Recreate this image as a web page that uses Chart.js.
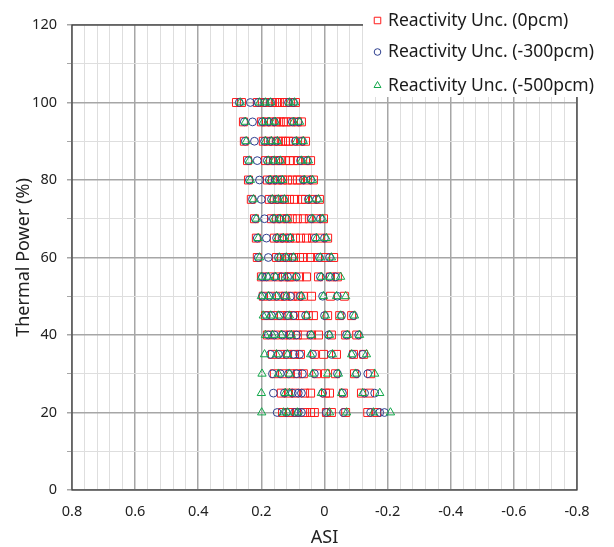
<!DOCTYPE html>
<html>
<head>
<meta charset="utf-8">
<script src="https://cdn.jsdelivr.net/npm/chart.js@4/dist/chart.umd.min.js"></script>
<style>
html,body{margin:0;padding:0;background:#fff;}
#wrap{width:614px;height:547px;position:relative;}
</style>
</head>
<body>
<div id="wrap"><canvas id="c" width="614" height="547"></canvas></div>
<script>
// ---- data ----
const seriesLabels = ['Reactivity Unc. (0pcm)', 'Reactivity Unc. (-300pcm)', 'Reactivity Unc. (-500pcm)'];
const powerLevels = [100, 95, 90, 85, 80, 75, 70, 65, 60, 55, 50, 45, 40, 35, 30, 25, 20];

// ASI values per power level (one inner list per power level)
const asiUnc0 = [
  [0.279, 0.263, 0.213, 0.197, 0.181, 0.165, 0.152, 0.143, 0.133, 0.124, 0.108, 0.092],
  [0.257, 0.200, 0.184, 0.168, 0.152, 0.140, 0.130, 0.121, 0.105, 0.086, 0.073],
  [0.254, 0.194, 0.178, 0.162, 0.146, 0.133, 0.124, 0.114, 0.098, 0.076, 0.060],
  [0.244, 0.187, 0.171, 0.155, 0.140, 0.124, 0.111, 0.098, 0.083, 0.060, 0.044],
  [0.241, 0.181, 0.165, 0.149, 0.133, 0.117, 0.102, 0.086, 0.076, 0.054, 0.035],
  [0.232, 0.175, 0.159, 0.143, 0.127, 0.111, 0.095, 0.073, 0.060, 0.038, 0.016],
  [0.222, 0.168, 0.152, 0.136, 0.118, 0.102, 0.086, 0.067, 0.048, 0.025, 0.003],
  [0.216, 0.159, 0.143, 0.127, 0.111, 0.092, 0.076, 0.057, 0.038, 0.013, -0.010],
  [0.213, 0.152, 0.136, 0.117, 0.098, 0.079, 0.067, 0.044, 0.022, -0.003, -0.029],
  [0.200, 0.175, 0.149, 0.130, 0.111, 0.105, 0.079, 0.057, 0.019, -0.019, -0.041],
  [0.194, 0.168, 0.143, 0.124, 0.102, 0.083, 0.067, 0.041, -0.019, -0.063],
  [0.187, 0.162, 0.137, 0.117, 0.095, 0.076, 0.051, 0.035, -0.010, -0.048, -0.086],
  [0.181, 0.156, 0.130, 0.108, 0.086, 0.067, 0.041, 0.019, -0.022, -0.067, -0.102],
  [0.165, 0.140, 0.117, 0.095, 0.076, 0.032, 0.003, -0.038, -0.092, -0.124],
  [0.159, 0.133, 0.108, 0.086, 0.067, 0.025, -0.003, -0.035, -0.095, -0.146],
  [0.137, 0.114, 0.092, 0.063, 0.044, -0.003, -0.016, -0.060, -0.117, -0.143],
  [0.133, 0.111, 0.089, 0.063, 0.044, 0.032, -0.006, -0.022, -0.067, -0.137, -0.165]
];
const asiUnc300 = [
  [0.270, 0.235, 0.210, 0.190, 0.171, 0.114, 0.098],
  [0.254, 0.228, 0.197, 0.178, 0.159, 0.102, 0.083],
  [0.251, 0.222, 0.190, 0.171, 0.152, 0.092, 0.070],
  [0.241, 0.213, 0.181, 0.162, 0.143, 0.076, 0.054],
  [0.238, 0.206, 0.175, 0.156, 0.137, 0.067, 0.044],
  [0.228, 0.200, 0.168, 0.149, 0.130, 0.051, 0.025],
  [0.219, 0.190, 0.162, 0.143, 0.121, 0.041, 0.013],
  [0.213, 0.184, 0.152, 0.133, 0.111, 0.029, 0.000],
  [0.210, 0.178, 0.146, 0.124, 0.102, 0.016, -0.016],
  [0.197, 0.184, 0.159, 0.136, 0.117, 0.089, 0.013, -0.016, -0.035],
  [0.197, 0.175, 0.152, 0.127, 0.108, 0.076, 0.006, -0.041],
  [0.184, 0.168, 0.143, 0.117, 0.098, 0.060, 0.000, -0.054, -0.092],
  [0.178, 0.159, 0.133, 0.111, 0.089, 0.044, -0.013, -0.070, -0.108],
  [0.171, 0.146, 0.121, 0.098, 0.079, 0.038, -0.022, -0.089, -0.121],
  [0.165, 0.140, 0.114, 0.089, 0.070, 0.032, -0.041, -0.102, -0.137],
  [0.162, 0.127, 0.102, 0.083, 0.073, 0.006, -0.057, -0.127, -0.159],
  [0.150, 0.121, 0.095, 0.083, 0.073, -0.006, -0.060, -0.146, -0.175, -0.190]
];
const asiUnc500 = [
  [0.267, 0.206, 0.187, 0.171, 0.111, 0.095],
  [0.251, 0.194, 0.175, 0.156, 0.098, 0.079],
  [0.248, 0.187, 0.168, 0.149, 0.089, 0.067],
  [0.238, 0.178, 0.159, 0.140, 0.073, 0.051],
  [0.235, 0.171, 0.152, 0.133, 0.063, 0.038],
  [0.225, 0.165, 0.146, 0.127, 0.048, 0.019],
  [0.216, 0.159, 0.140, 0.118, 0.038, 0.006],
  [0.210, 0.149, 0.130, 0.108, 0.025, -0.006],
  [0.206, 0.143, 0.121, 0.098, 0.013, -0.022],
  [0.200, 0.178, 0.155, 0.124, 0.092, 0.010, -0.019, -0.051],
  [0.200, 0.178, 0.152, 0.121, 0.073, 0.003, -0.038, -0.067],
  [0.194, 0.171, 0.146, 0.111, 0.057, -0.003, -0.051, -0.095],
  [0.187, 0.165, 0.137, 0.105, 0.041, -0.016, -0.073, -0.111],
  [0.190, 0.152, 0.117, 0.044, -0.025, -0.086, -0.133],
  [0.198, 0.146, 0.111, 0.038, -0.010, -0.044, -0.098, -0.159],
  [0.200, 0.124, 0.111, 0.010, -0.054, -0.121, -0.175],
  [0.199, 0.130, 0.117, 0.086, -0.016, -0.070, -0.155, -0.209]
];

// ---- build ----
function toPoints(rows) {
  const pts = [];
  rows.forEach((row, i) => row.forEach(v => pts.push({x: v, y: powerLevels[i]})));
  return pts;
}
const colors = ['#FF1A1A', '#2E3F8F', '#12A84A'];
const styles = ['rect', 'circle', 'triangle'];
const radii = [5.6, 3.9, 4.8];
const allSeries = [asiUnc0, asiUnc300, asiUnc500];

const datasets = allSeries.map((rows, k) => ({
  label: seriesLabels[k],
  data: toPoints(rows),
  showLine: false,
  pointStyle: styles[k],
  pointRadius: radii[k],
  pointHoverRadius: radii[k],
  pointBorderWidth: 1,
  pointBorderColor: colors[k],
  pointBackgroundColor: 'rgba(0,0,0,0)',
  borderColor: colors[k],
  backgroundColor: 'rgba(0,0,0,0)',
  order: 3 - k
}));

const isMult = (v, s) => Math.abs(v / s - Math.round(v / s)) < 1e-6;
const FONT = '"Noto Sans", "Open Sans", sans-serif';

const frame = {
  id: 'frame',
  afterDatasetsDraw(chart) {
    const {ctx, chartArea: a} = chart;
    ctx.save();
    ctx.strokeStyle = '#3a3a3a';
    ctx.lineWidth = 1.2;
    ctx.strokeRect(a.left, a.top, a.right - a.left, a.bottom - a.top);
    ctx.restore();
  },
  afterDraw(chart) {
    const {ctx} = chart;
    ctx.save();
    ctx.fillStyle = '#ffffff';
    ctx.fillRect(363, 0, 614 - 363, 97);
    const ys = [20.5, 52, 85.5];
    ctx.font = '17.5px ' + FONT;
    ctx.textBaseline = 'middle';
    ctx.textAlign = 'left';
    chart.data.datasets.forEach((ds, i) => {
      const r = [4.6, 3.3, 4][i];
      ctx.lineWidth = 1;
      ctx.strokeStyle = colors[i];
      ctx.fillStyle = 'rgba(0,0,0,0)';
      Chart.helpers.drawPoint(ctx, {pointStyle: styles[i], rotation: 0, borderWidth: 1, radius: r}, 377.5, ys[i]);
      ctx.fillStyle = '#1a1a1a';
      ctx.fillText(ds.label, 388, ys[i] + 0.5);
    });
    ctx.restore();
  }
};

new Chart(document.getElementById('c'), {
  type: 'scatter',
  data: {datasets},
  plugins: [frame],
  options: {
    responsive: false,
    animation: false,
    events: [],
    layout: {padding: {top: 25, right: 37, left: 0, bottom: 0}},
    plugins: {legend: {display: false}, tooltip: {enabled: false}},
    scales: {
      x: {
        type: 'linear',
        reverse: true,
        min: -0.8, max: 0.8,
        afterFit(s) { s.height = 57; },
        ticks: {
          stepSize: 0.04,
          autoSkip: false,
          maxRotation: 0,
          padding: 13,
          color: '#222',
          font: {family: FONT, size: 14.5},
          callback: v => isMult(v, 0.2) ? String(Math.round(v * 10) / 10) : ''
        },
        grid: {
          color: c => isMult(c.tick.value, 0.2) ? '#a6a6a6' : '#dedede',
          lineWidth: c => isMult(c.tick.value, 0.2) ? 1.5 : 1,
          tickLength: 4,
          drawTicks: false
        },
        border: {display: false},
        title: {display: true, text: 'ASI', color: '#222', font: {family: FONT, size: 18}, padding: {top: 0, bottom: -2}}
      },
      y: {
        type: 'linear',
        min: 0, max: 120,
        afterFit(s) { s.width = 72; },
        ticks: {
          stepSize: 10,
          autoSkip: false,
          padding: 10,
          color: '#222',
          font: {family: FONT, size: 14.5},
          callback: v => isMult(v, 20) ? String(v) : ''
        },
        grid: {
          color: c => isMult(c.tick.value, 20) ? '#a6a6a6' : '#dedede',
          lineWidth: c => isMult(c.tick.value, 20) ? 1.5 : 1,
          tickLength: 5,
          tickColor: '#a6a6a6'
        },
        border: {display: false},
        title: {display: true, text: 'Thermal Power (%)', color: '#222', font: {family: FONT, size: 18}, padding: {top: 13, bottom: 0}}
      }
    }
  }
});
</script>
</body>
</html>
